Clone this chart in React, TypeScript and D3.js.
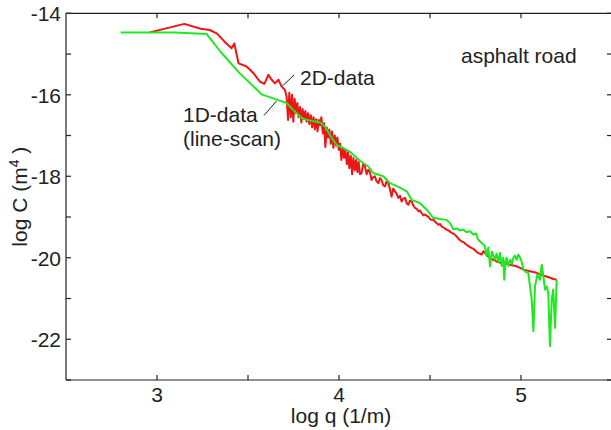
import React from 'react';
import * as d3 from 'd3';

// 2D-data (red), log q vs log C
const redQ = [
  2.96, 3.05, 3.15, 3.24, 3.29, 3.33, 3.37, 3.41, 3.425, 3.448, 3.49, 3.51, 3.53, 3.566, 3.59,
  3.612, 3.63, 3.648, 3.667, 3.685, 3.703, 3.712, 3.72, 3.727, 3.735, 3.742, 3.749, 3.756,
  3.764, 3.771, 3.778, 3.786, 3.793, 3.8, 3.808, 3.815, 3.822, 3.83, 3.837, 3.845, 3.852, 3.86,
  3.867, 3.874, 3.882, 3.889, 3.896, 3.903, 3.911, 3.918, 3.925, 3.933, 3.94, 3.947, 3.955,
  3.962, 3.969, 3.977, 3.984, 3.991, 3.999, 4.006, 4.013, 4.021, 4.028, 4.035, 4.043, 4.05,
  4.057, 4.065, 4.072, 4.079, 4.087, 4.094, 4.101, 4.108, 4.115, 4.124, 4.133, 4.143, 4.152,
  4.161, 4.17, 4.179, 4.188, 4.197, 4.206, 4.216, 4.225, 4.234, 4.243, 4.253, 4.262, 4.271,
  4.28, 4.289, 4.298, 4.307, 4.316, 4.326, 4.335, 4.344, 4.353, 4.363, 4.372, 4.381, 4.39, 4.4,
  4.409, 4.418, 4.427, 4.436, 4.445, 4.454, 4.463, 4.473, 4.482, 4.491, 4.5, 4.509, 4.518,
  4.527, 4.537, 4.546, 4.555, 4.564, 4.578, 4.591, 4.605, 4.619, 4.633, 4.647, 4.66, 4.674,
  4.688, 4.701, 4.72, 4.738, 4.757, 4.77, 4.784, 4.793, 4.802, 4.815, 4.83, 4.848, 4.866,
  4.885, 4.903, 4.92, 4.94, 4.958, 4.976, 4.995, 5.013, 5.031, 5.05, 5.068, 5.086, 5.104,
  5.123, 5.141, 5.159, 5.178, 5.196,
];
const redC = [
  -14.47, -14.37, -14.26, -14.38, -14.41, -14.5, -14.69, -14.86, -14.74, -15.23, -15.3, -15.38,
  -15.47, -15.68, -15.73, -15.51, -15.63, -15.72, -15.63, -15.8, -15.88, -16.05, -16.62, -15.95,
  -16.55, -16.0, -16.66, -16.1, -16.45, -16.2, -16.55, -16.3, -16.68, -16.35, -16.6, -16.4,
  -16.66, -16.45, -16.72, -16.5, -16.8, -16.55, -16.85, -16.6, -16.9, -16.62, -16.75, -16.55,
  -16.95, -16.7, -17.28, -16.8, -17.05, -16.85, -17.2, -16.9, -17.3, -17.0, -17.25, -17.05,
  -17.35, -17.2, -17.6, -17.3, -17.55, -17.35, -17.7, -17.4, -17.8, -17.5, -17.95, -17.55,
  -17.85, -17.6, -17.9, -17.65, -17.95, -17.92, -17.7, -17.76, -17.95, -17.84, -17.9, -18.09,
  -18.02, -18.0, -18.12, -18.17, -18.05, -18.09, -18.22, -18.25, -18.12, -18.17, -18.32, -18.5,
  -18.3, -18.37, -18.42, -18.53, -18.48, -18.62, -18.55, -18.53, -18.66, -18.7, -18.6, -18.62,
  -18.72, -18.78, -18.8, -18.86, -18.84, -18.9, -18.96, -18.94, -18.97, -18.99, -19.05, -19.07,
  -19.06, -19.11, -19.15, -19.19, -19.17, -19.23, -19.27, -19.31, -19.34, -19.39, -19.42,
  -19.48, -19.55, -19.6, -19.63, -19.68, -19.74, -19.78, -19.86, -19.89, -19.92, -19.84, -19.88,
  -19.95, -20.0, -20.05, -20.09, -20.12, -20.14, -20.15, -20.17, -20.19, -20.21, -20.25, -20.29,
  -20.31, -20.33, -20.35, -20.37, -20.4, -20.44, -20.46, -20.49, -20.52, -20.54,
];

// 1D-data (line-scan, green)
const greenQ = [
  2.8, 2.95, 3.1, 3.273, 3.35, 3.45, 3.575, 3.658, 3.712, 3.749, 3.795, 3.82, 3.859, 3.896,
  3.923, 3.96, 3.987, 4.024, 4.06, 4.115, 4.161, 4.188, 4.243, 4.28, 4.326, 4.372, 4.4, 4.445,
  4.482, 4.518, 4.555, 4.591, 4.61, 4.628, 4.647, 4.665, 4.683, 4.7, 4.72, 4.738, 4.752, 4.765,
  4.784, 4.8, 4.811, 4.82, 4.83, 4.84, 4.857, 4.866, 4.875, 4.885, 4.894, 4.903, 4.908, 4.915,
  4.921, 4.93, 4.94, 4.95, 4.958, 4.967, 4.976, 4.985, 4.995, 5.004, 5.013, 5.026, 5.04, 5.059,
  5.068, 5.077, 5.09, 5.104, 5.114, 5.123, 5.132, 5.141, 5.15, 5.159, 5.169, 5.177, 5.187,
  5.196,
];
const greenC = [
  -14.47, -14.47, -14.47, -14.51, -14.95, -15.45, -15.99, -16.12, -16.2, -16.37, -16.57, -16.61,
  -16.65, -16.68, -16.78, -17.06, -17.23, -17.31, -17.4, -17.62, -17.76, -17.92, -18.0, -18.17,
  -18.26, -18.37, -18.58, -18.66, -18.82, -19.02, -19.05, -19.07, -19.15, -19.3, -19.28, -19.33,
  -19.31, -19.37, -19.35, -19.43, -19.4, -19.56, -19.64, -19.7, -19.95, -19.75, -20.21, -19.85,
  -20.05, -19.9, -20.1, -19.88, -20.2, -20.0, -20.54, -20.1, -20.0, -20.2, -20.05, -20.15, -20.0,
  -19.95, -20.05, -19.92, -20.0, -20.1, -20.29, -20.35, -20.37, -21.03, -21.8, -20.7, -20.41,
  -20.54, -20.17, -20.45, -20.78, -20.7, -20.86, -22.17, -21.03, -20.78, -21.72, -20.54,
];

const xMajor = [3, 4, 5];
const xMinor = [3.5, 4.5, 5.5];
const yMajor = [-14, -16, -18, -20, -22];
const yMinor = [-15, -17, -19, -21, -23];

const W = 611;
const H = 430;
const left = 66;
const right = 612;
const top = 13.3;
const bottom = 380;
const font = '"Liberation Sans", Arial, Helvetica, sans-serif';
const ink = '#222';
const tick = 5;

export default function App() {
  const x = d3.scaleLinear().domain([2.5, 5.5]).range([left, right]);
  const y = d3.scaleLinear().domain([-23, -14]).range([bottom, top]);

  const path = d3
    .line<[number, number]>()
    .x((d) => x(d[0]))
    .y((d) => y(d[1]));
  const red = path(redQ.map((q, i) => [q, redC[i]]));
  const green = path(greenQ.map((q, i) => [q, greenC[i]]));

  const xTicks = [...xMajor, ...xMinor];
  const yTicks = [...yMajor, ...yMinor];

  return (
    <svg
      width={W}
      height={H}
      style={{ position: 'absolute', left: 0, top: 0, background: '#fff' }}
      fontFamily={font}
    >
      <defs>
        <clipPath id="plot">
          <rect x={left} y={top} width={right - left} height={bottom - top} />
        </clipPath>
      </defs>

      <g clipPath="url(#plot)" fill="none" strokeLinejoin="round">
        <path d={red ?? ''} stroke="#f01414" strokeWidth={2} />
        <path d={green ?? ''} stroke="#1ee81e" strokeWidth={2} />
      </g>

      {/* frame */}
      <g stroke={ink} strokeWidth={1.2} fill="none">
        <line x1={left} x2={right} y1={top} y2={top} />
        <line x1={left} x2={right} y1={bottom} y2={bottom} />
        <line x1={left} x2={left} y1={top} y2={bottom} />
        <line x1={right} x2={right} y1={top} y2={bottom} />
        {xTicks.map((t) => (
          <g key={'x' + t}>
            <line x1={x(t)} x2={x(t)} y1={bottom} y2={bottom - tick} />
            <line x1={x(t)} x2={x(t)} y1={top} y2={top + tick} />
          </g>
        ))}
        {yTicks.map((t) => (
          <g key={'y' + t}>
            <line x1={left} x2={left + tick} y1={y(t)} y2={y(t)} />
            <line x1={right} x2={right - tick} y1={y(t)} y2={y(t)} />
          </g>
        ))}
      </g>

      <g fill={ink} fontSize={21}>
        {xMajor.map((t) => (
          <text key={t} x={x(t)} y={402} textAnchor="middle">
            {t}
          </text>
        ))}
        {yMajor.map((t) => (
          <text key={t} x={61} y={y(t) + 8} textAnchor="end">
            {t}
          </text>
        ))}
        <text x={(left + right) / 2 + 2} y={423} textAnchor="middle">
          log q (1/m)
        </text>
        <text transform={`translate(27,${(top + bottom) / 2}) rotate(-90)`} textAnchor="middle">
          log C (m<tspan fontSize={14} dy={-8}>4</tspan>
          <tspan dy={8}> )</tspan>
        </text>
        <text x={461} y={63}>asphalt road</text>
        <text x={300} y={85}>2D-data</text>
        <text x={183} y={122}>1D-data</text>
        <text x={183} y={146}>(line-scan)</text>
      </g>

      <g stroke={ink} strokeWidth={1}>
        <line x1={294} y1={75} x2={282.5} y2={86} />
        <line x1={276.5} y1={101} x2={264} y2={115.5} />
      </g>
    </svg>
  );
}
